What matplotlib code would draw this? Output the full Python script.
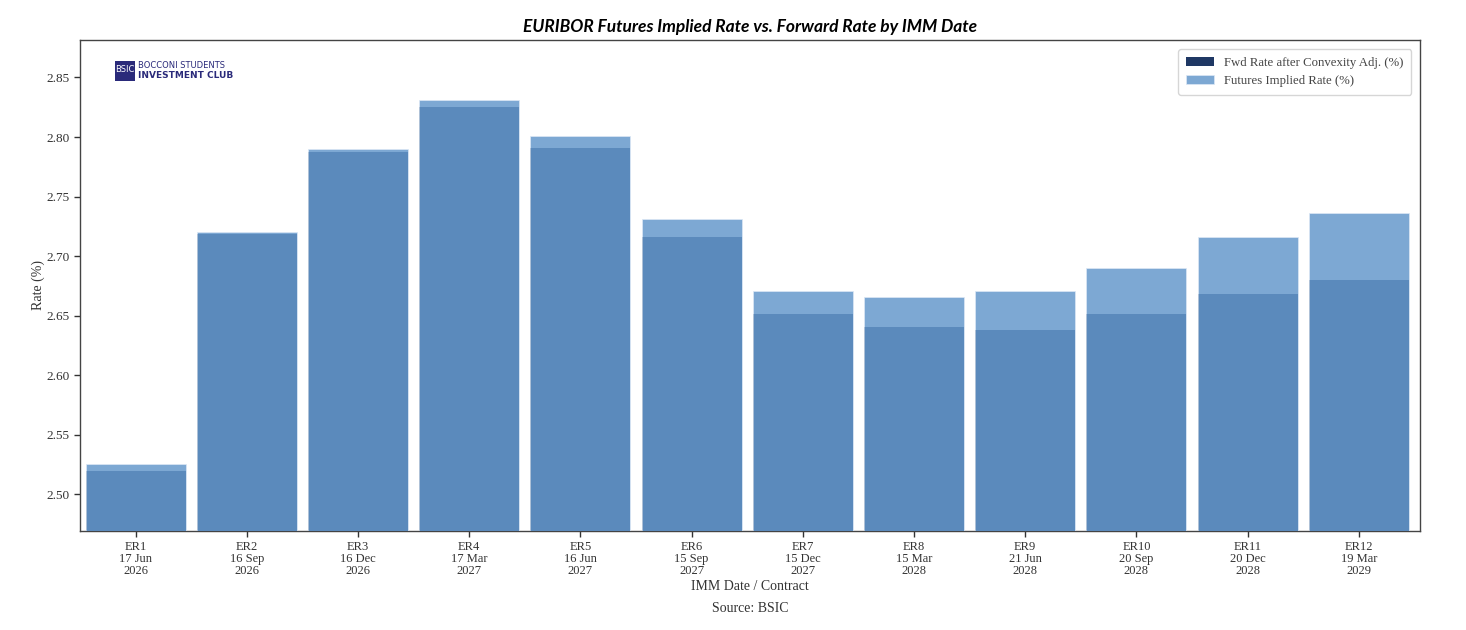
import matplotlib
matplotlib.use("Agg")
import matplotlib.pyplot as plt
import numpy as np
from matplotlib.patches import Rectangle

contracts = ["ER1", "ER2", "ER3", "ER4", "ER5", "ER6", "ER7", "ER8", "ER9", "ER10", "ER11", "ER12"]
imm_dates = ["17 Jun\n2026", "16 Sep\n2026", "16 Dec\n2026", "17 Mar\n2027", "16 Jun\n2027", "15 Sep\n2027",
             "15 Dec\n2027", "15 Mar\n2028", "21 Jun\n2028", "20 Sep\n2028", "20 Dec\n2028", "19 Mar\n2029"]
fwd_rate = [2.519, 2.7185, 2.787, 2.8248, 2.791, 2.7156, 2.651, 2.640, 2.6382, 2.651, 2.668, 2.680]
futures_rate = [2.525, 2.720, 2.790, 2.8315, 2.8012, 2.731, 2.6708, 2.6655, 2.6708, 2.690, 2.7156, 2.736]

serif = ["Liberation Serif", "DejaVu Serif"]
plt.rcParams["font.family"] = serif

fig = plt.figure(figsize=(14.66, 6.3), dpi=100)
ax = fig.add_axes([80/1466, 1 - 531/630, (1420-80)/1466, (531-40)/630])

x = np.arange(len(contracts))
ax.bar(x, fwd_rate, width=0.9, color="#1f3864", label="Fwd Rate after Convexity Adj. (%)", zorder=2)
ax.bar(x, futures_rate, width=0.9, color="#6699cc", alpha=0.85, edgecolor="#dce8f5", linewidth=0.6,
       label="Futures Implied Rate (%)", zorder=3)

ymin = min(fwd_rate) - 0.05
ymax = max(futures_rate) + 0.05
ax.set_ylim(ymin, ymax)
ax.set_xlim(-0.5, 11.55)
ax.set_yticks(np.arange(2.50, 2.851, 0.05))
ax.set_yticklabels([f"{v:.2f}" for v in np.arange(2.50, 2.851, 0.05)], fontsize=9.5)
ax.set_xticks(x)
ax.set_xticklabels([f"{c}\n{d}" for c, d in zip(contracts, imm_dates)], fontsize=9, linespacing=1.0)
ax.tick_params(axis="both", length=4, width=1, color="#333333", labelcolor="#333333")

ax.set_ylabel("Rate (%)", fontsize=10, color="#333333", labelpad=1)
ax.set_xlabel("IMM Date / Contract", fontsize=10, color="#333333", labelpad=2)
fig.text(ax.get_position().x0 + ax.get_position().width/2, 1 - 608/630, "Source: BSIC",
         ha="center", va="center", fontsize=10, color="#333333")

ax.set_title("EURIBOR Futures Implied Rate vs. Forward Rate by IMM Date", fontsize=12.5,
             fontweight="bold", fontstyle="italic", family=["Lato", "DejaVu Sans"], pad=6)

for s in ax.spines.values():
    s.set_color("#444444")
    s.set_linewidth(1.0)

leg = ax.legend(loc="upper right", fontsize=9.2, frameon=True, fancybox=True,
                edgecolor="#cccccc", borderpad=0.6, handlelength=2.2, borderaxespad=0.7)
for t in leg.get_texts():
    t.set_color("#444444")

# logo
fig.patches.append(Rectangle((115/1466, 1 - 81/630), 20/1466, 20/630, transform=fig.transFigure,
                             facecolor="#2a2a7a", edgecolor="none"))
fig.text(125/1466, 1 - 70/630, "BSIC", fontsize=6, color="white", ha="center", va="center",
         family=["DejaVu Sans"])
fig.text(138/1466, 1 - 65/630, "BOCCONI STUDENTS", fontsize=6, color="#2a2a7a", ha="left", va="center",
         family=["DejaVu Sans"])
fig.text(138/1466, 1 - 75/630, "INVESTMENT CLUB", fontsize=6.5, color="#2a2a7a", ha="left", va="center",
         fontweight="bold", family=["DejaVu Sans"])

fig.savefig("out.png", dpi=100)
